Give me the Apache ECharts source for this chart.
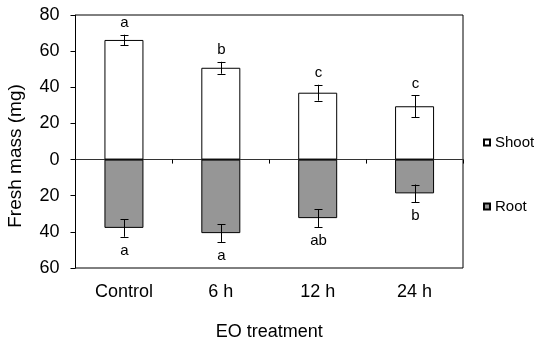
<!DOCTYPE html>
<html>
<head>
<meta charset="utf-8">
<script src="https://cdn.jsdelivr.net/npm/echarts@6/dist/echarts.min.js"></script>
<style>html,body{margin:0;padding:0;background:#fff}#c{width:534px;height:346px}</style>
</head>
<body>
<div id="c"></div>
<script>
var categories = ['Control', '6 h', '12 h', '24 h'];
var shoot = [66.2, 50.8, 37.0, 29.5];
var shootErr = [2.9, 3.3, 4.4, 6.0];
var shootLetters = ['a', 'b', 'c', 'c'];
var root = [37.8, 40.7, 32.4, 18.7];
var rootErr = [4.9, 4.9, 4.9, 4.9];
var rootLetters = ['a', 'a', 'ab', 'b'];
var yMin = -60, yMax = 80, yStep = 20;

var FONT = 'Liberation Sans, Arial, sans-serif';
var chart = echarts.init(document.getElementById('c'), null, {renderer: 'canvas'});

function errData(vals, errs, sign) {
  return vals.map(function (v, i) { return [i, sign * v, errs[i]]; });
}

function makeRender(letters, sgn) {
  return function (params, api) {
    var x = api.value(0), v = api.value(1), e = api.value(2);
    var letter = letters[params.dataIndex];
    var hi = api.coord([x, v + e]);
    var lo = api.coord([x, v - e]);
    var cx = Math.round(hi[0]) + 0.5;
    var cap = 4;
    var style = {stroke: '#000', lineWidth: 1};
    var tip = sgn > 0 ? hi : lo;
    return {
      type: 'group',
      children: [
        {type: 'line', shape: {x1: cx, y1: hi[1], x2: cx, y2: lo[1]}, style: style},
        {type: 'line', shape: {x1: cx - cap, y1: Math.round(hi[1]) + 0.5, x2: cx + cap, y2: Math.round(hi[1]) + 0.5}, style: style},
        {type: 'line', shape: {x1: cx - cap, y1: Math.round(lo[1]) + 0.5, x2: cx + cap, y2: Math.round(lo[1]) + 0.5}, style: style},
        {type: 'text', style: {text: letter, x: cx, y: tip[1] + (sgn > 0 ? -12 : 14), align: 'center', verticalAlign: 'middle', font: '15px ' + FONT, fill: '#000'}}
      ]
    };
  };
}

chart.setOption({
  animation: false,
  backgroundColor: '#fff',
  textStyle: {fontFamily: FONT},
  grid: {left: 75.5, right: 71, top: 15, bottom: 70.5, show: true, borderColor: '#000', borderWidth: 1, containLabel: false},
  legend: {
    orient: 'vertical', left: 478, top: 130, itemGap: 49, itemWidth: 6, itemHeight: 6,
    icon: 'rect',
    data: ['Shoot', 'Root'],
    textStyle: {fontSize: 15, color: '#000', fontFamily: FONT}
  },
  graphic: [{
    type: 'text', x: 16, y: 156,
    rotation: Math.PI / 2,
    style: {text: 'Fresh mass (mg)', font: '19px ' + FONT, fill: '#000', align: 'center', verticalAlign: 'middle'}
  }],
  xAxis: [{
    type: 'category', data: categories, position: 'bottom',
    axisLine: {onZero: true, lineStyle: {color: '#333', width: 1}},
    axisTick: {show: true, length: 4, inside: false, lineStyle: {color: '#000'}},
    axisLabel: {show: false},
    splitLine: {show: false}
  }, {
    type: 'category', data: categories, position: 'bottom',
    axisLine: {show: false, onZero: false},
    axisTick: {show: false},
    axisLabel: {show: true, fontSize: 18, color: '#000', margin: 15, fontFamily: FONT},
    name: 'EO treatment', nameLocation: 'middle', nameGap: 55,
    nameTextStyle: {fontSize: 18, color: '#000', fontFamily: FONT}
  }],
  yAxis: {
    type: 'value', min: yMin, max: yMax, interval: yStep,
    axisLine: {show: true, lineStyle: {color: '#000'}},
    axisTick: {show: true, length: 5, inside: false, lineStyle: {color: '#000'}},
    axisLabel: {fontSize: 18, color: '#000', margin: 16, fontFamily: FONT, formatter: function (v) { return Math.abs(v); }},
    splitLine: {show: false}
  },
  series: [{
    name: 'Shoot', type: 'bar', xAxisIndex: 0, data: shoot, barWidth: 39, barGap: '-100%',
    itemStyle: {color: '#fff', borderColor: '#000', borderWidth: 1}
  }, {
    name: 'Root', type: 'bar', xAxisIndex: 0, data: root.map(function (v) { return -v; }), barWidth: 39,
    itemStyle: {color: '#969696', borderColor: '#000', borderWidth: 1}
  }, {
    type: 'custom', xAxisIndex: 0, renderItem: makeRender(shootLetters, 1), z: 10,
    data: errData(shoot, shootErr, 1)
  }, {
    type: 'custom', xAxisIndex: 0, renderItem: makeRender(rootLetters, -1), z: 10,
    data: errData(root, rootErr, -1)
  }]
});
</script>
</body>
</html>
